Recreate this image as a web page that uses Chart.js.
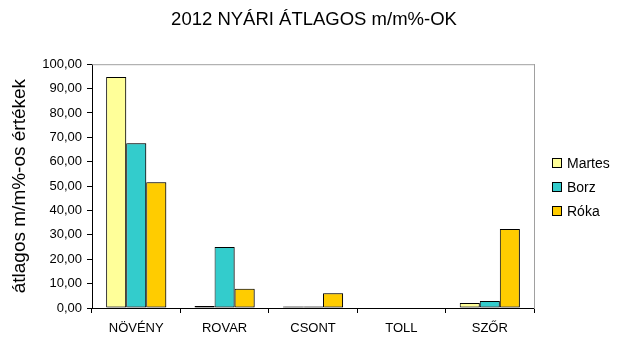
<!doctype html>
<html>
<head>
    <meta charset="utf-8">
    <title>2012 NYÁRI ÁTLAGOS m/m%-OK</title>
    <script src="https://cdn.jsdelivr.net/npm/chart.js@4/dist/chart.umd.min.js"></script>
    <style>
        html, body { margin: 0; padding: 0; background: #fff; }
    </style>
</head>
<body>
<canvas id="myChart" width="628" height="338"></canvas>

<script>
    // kategóriák és a fajonkénti átlagos m/m% értékek
    var categories = ['NÖVÉNY', 'ROVAR', 'CSONT', 'TOLL', 'SZŐR'];
    var martes = [94.8, 0.8, 0.6, 0, 2.0];
    var borz = [67.6, 25.0, 0.6, 0, 2.9];
    var roka = [51.6, 7.9, 6.1, 0, 32.4];
    var yTicks = [0, 10, 20, 30, 40, 50, 60, 70, 80, 90, 100];

    var fontFamily = '"Liberation Sans", Arial, sans-serif';

    // szürke vonal a rajzterület tetején
    var plotFrame = {
        id: 'plotFrame',
        beforeDatasetsDraw: function (chart) {
            var a = chart.chartArea, ctx = chart.ctx;
            ctx.save();
            ctx.strokeStyle = '#a0a0a0';
            ctx.lineWidth = 1;
            ctx.beginPath();
            ctx.moveTo(a.left, a.top + 0.5);
            ctx.lineTo(a.right, a.top + 0.5);
            ctx.stroke();
            ctx.restore();
        }
    };

    // jelmagyarázat a rajzterülettől jobbra
    var sideLegend = {
        id: 'sideLegend',
        afterDraw: function (chart) {
            var ctx = chart.ctx;
            var x = 552, y = 163, step = 24;
            ctx.save();
            ctx.font = '14px ' + fontFamily;
            ctx.textBaseline = 'middle';
            chart.data.datasets.forEach(function (ds, i) {
                var yy = y + i * step;
                ctx.fillStyle = ds.backgroundColor;
                ctx.fillRect(x + 0.5, yy - 4.5, 9, 9);
                ctx.strokeStyle = '#000';
                ctx.lineWidth = 1;
                ctx.strokeRect(x + 0.5, yy - 4.5, 9, 9);
                ctx.fillStyle = '#000';
                ctx.fillText(ds.label, x + 15, yy + 1);
            });
            ctx.restore();
        }
    };

    // enyhe árnyék az oszlopok mögött
    var barShadow = {
        id: 'barShadow',
        beforeDatasetsDraw: function (chart) {
            var ctx = chart.ctx;
            ctx.save();
            ctx.shadowColor = 'rgba(0,0,0,0.35)';
            ctx.shadowOffsetX = 1.5;
            ctx.shadowOffsetY = 0;
            ctx.shadowBlur = 0;
        },
        afterDatasetsDraw: function (chart) {
            chart.ctx.restore();
        }
    };

    var ctx = document.getElementById('myChart').getContext('2d');
    var myChart = new Chart(ctx, {
        type: 'bar',
        data: {
            labels: categories,
            datasets: [
                { label: 'Martes', data: martes, backgroundColor: '#FFFF99' },
                { label: 'Borz', data: borz, backgroundColor: '#33CCCC' },
                { label: 'Róka', data: roka, backgroundColor: '#FFCC00' }
            ].map(function (d) {
                d.borderColor = '#000';
                d.borderWidth = 1;
                d.borderSkipped = false;
                d.barPercentage = 1.0;
                d.categoryPercentage = 0.68;
                return d;
            })
        },
        options: {
            responsive: false,
            animation: false,
            layout: { padding: 0 },
            plugins: {
                legend: { display: false },
                tooltip: { enabled: false },
                title: {
                    display: true,
                    text: '2012 NYÁRI ÁTLAGOS m/m%-OK',
                    color: '#000',
                    font: { family: fontFamily, size: 18.5, weight: 'normal' },
                    padding: { top: 9, bottom: 33 }
                }
            },
            scales: {
                x: {
                    grid: {
                        display: true,
                        offset: true,
                        drawOnChartArea: false,
                        drawTicks: true,
                        tickLength: 5,
                        color: '#000'
                    },
                    border: { color: '#000', width: 1 },
                    ticks: {
                        color: '#000',
                        padding: 8,
                        maxRotation: 0,
                        font: { family: fontFamily, size: 13 }
                    },
                    afterFit: function (scale) { scale.height = 30; }
                },
                y: {
                    min: 0,
                    max: 100,
                    afterBuildTicks: function (scale) {
                        scale.ticks = yTicks.map(function (v) { return { value: v }; });
                    },
                    grid: {
                        display: true,
                        drawOnChartArea: false,
                        drawTicks: true,
                        tickLength: 5,
                        color: '#000'
                    },
                    border: { color: '#000', width: 1 },
                    ticks: {
                        color: '#000',
                        padding: 5,
                        font: { family: fontFamily, size: 13 },
                        callback: function (v) { return v.toFixed(2).replace('.', ','); }
                    },
                    title: {
                        display: true,
                        text: 'átlagos m/m%-os értékek',
                        color: '#000',
                        font: { family: fontFamily, size: 19 },
                        padding: { top: 8, bottom: 0 }
                    },
                    afterFit: function (scale) { scale.width = 92; }
                },
                // jobb oldali üres tengely: helyet hagy a jelmagyarázatnak, a szegélye a szürke keret
                yRight: {
                    position: 'right',
                    min: 0,
                    max: 100,
                    grid: { display: false },
                    ticks: { display: false },
                    border: { display: true, color: '#a0a0a0', width: 1 },
                    afterFit: function (scale) { scale.width = 94; }
                }
            }
        },
        plugins: [plotFrame, barShadow, sideLegend]
    });
</script>
</body>
</html>
